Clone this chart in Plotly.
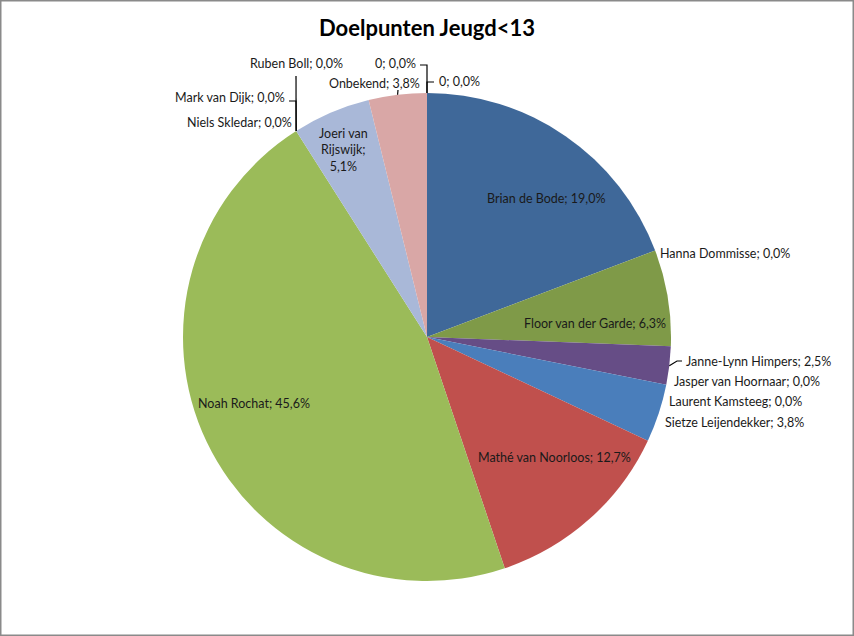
import math
import plotly.graph_objects as go

# data (percent of goals)
players = ["Brian de Bode", "Hanna Dommisse", "Floor van der Garde", "Janne-Lynn Himpers",
           "Jasper van Hoornaar", "Laurent Kamsteeg", "Sietze Leijendekker", "Mathé van Noorloos",
           "Noah Rochat", "Niels Skledar", "Mark van Dijk", "Ruben Boll",
           "Joeri van Rijswijk", "Onbekend", "0", "0"]
percentages = [19.0, 0.0, 6.3, 2.5, 0.0, 0.0, 3.8, 12.7, 45.6, 0.0, 0.0, 0.0, 5.1, 3.8, 0.0, 0.0]
title_text = "Doelpunten Jeugd&lt;13"

colors = ["#3F6899", "#3F6899", "#7F9A48", "#664D86", "#4A7EBB", "#4A7EBB", "#4A7EBB", "#C0504D",
          "#9BBB59", "#9BBB59", "#9BBB59", "#9BBB59", "#A9B8D8", "#D9A7A6", "#D9A7A6", "#D9A7A6"]

W, H = 854, 636
CX, CY, R = 427, 337, 244
FONT = "Lato"

# label placement in pixels: (x, y, xanchor)
label_pos = [(546, 198, "center"), (658, 253, "left"), (595, 323, "center"), (684, 361, "left"),
             (672, 381, "left"), (667, 401, "left"), (663, 422, "left"), (554, 457, "center"),
             (254, 403, "center"), (294, 122, "right"), (287, 97, "right"), (296, 64, "center"),
             (343, 150, "center"), (422, 84, "right"), (418, 64, "right"), (437, 82, "left")]

# leader lines: slice index -> extra points after the point on the pie edge
leaders = {3: [(677, 361), (682, 361)],
           11: [(296, 76)],
           10: [(296, 101), (289, 101)],
           13: [(398, 90)],
           14: [(427, 65), (420, 65)],
           15: [(427, 82), (434, 82)]}


def px(x, y):
    return x / W, 1 - y / H


def fmt(v):
    return f"{v:.1f}".replace(".", ",") + "%"


total = sum(percentages)
cum = []
acc = 0
for v in percentages:
    cum.append((acc, acc + v))
    acc += v


def edge_point(i):
    a0, a1 = cum[i]
    frac = ((a0 + a1) / 2) / total
    ang = 2 * math.pi * frac
    return CX + R * math.sin(ang), CY - R * math.cos(ang)


x0, y_top = px(CX - R, CY - R)
x1, y_bot = px(CX + R, CY + R)

fig = go.Figure(go.Pie(
    labels=[f"{p} ({i})" for i, p in enumerate(players)],
    values=percentages,
    sort=False,
    direction="clockwise",
    rotation=0,
    textinfo="none",
    marker=dict(colors=colors, line=dict(width=0)),
    hovertext=[f"{p}; {fmt(v)}" for p, v in zip(players, percentages)],
    hoverinfo="text",
    domain=dict(x=[x0, x1], y=[y_bot, y_top]),
    showlegend=False,
))

annotations = []
for i, (p, v) in enumerate(zip(players, percentages)):
    lx, ly, anchor = label_pos[i]
    txt = f"{p}; {fmt(v)}"
    if p == "Joeri van Rijswijk":
        txt = f"Joeri van<br>Rijswijk;<br>{fmt(v)}"
    ax, ay = px(lx, ly)
    annotations.append(dict(x=ax, y=ay, xref="paper", yref="paper", text=txt,
                            showarrow=False, xanchor=anchor, yanchor="middle",
                            font=dict(family=FONT, size=12.5, color="#1a1a1a"),
                            align="center"))

tx, ty = px(427, 27)
annotations.append(dict(x=tx, y=ty, xref="paper", yref="paper", text="<b>" + title_text + "</b>",
                        showarrow=False, xanchor="center", yanchor="middle",
                        font=dict(family=FONT, size=22, color="#000000")))

shapes = []
for i, pts in leaders.items():
    sx, sy = edge_point(i)
    path_pts = [(sx, sy)] + pts
    path = "M " + " L ".join(f"{px(a, b)[0]},{px(a, b)[1]}" for a, b in path_pts)
    shapes.append(dict(type="path", xref="paper", yref="paper", path=path,
                       line=dict(color="#000000", width=1.2)))

shapes.append(dict(type="rect", xref="paper", yref="paper", x0=0, y0=0, x1=1, y1=1,
                   line=dict(color="#8a8a8a", width=3)))

fig.update_layout(
    width=W, height=H,
    margin=dict(l=0, r=0, t=0, b=0),
    paper_bgcolor="white",
    annotations=annotations,
    shapes=shapes,
)

fig.write_html("out.html", config={"displayModeBar": False},
               post_script="document.body.style.margin='0';document.body.style.overflow='hidden';")
